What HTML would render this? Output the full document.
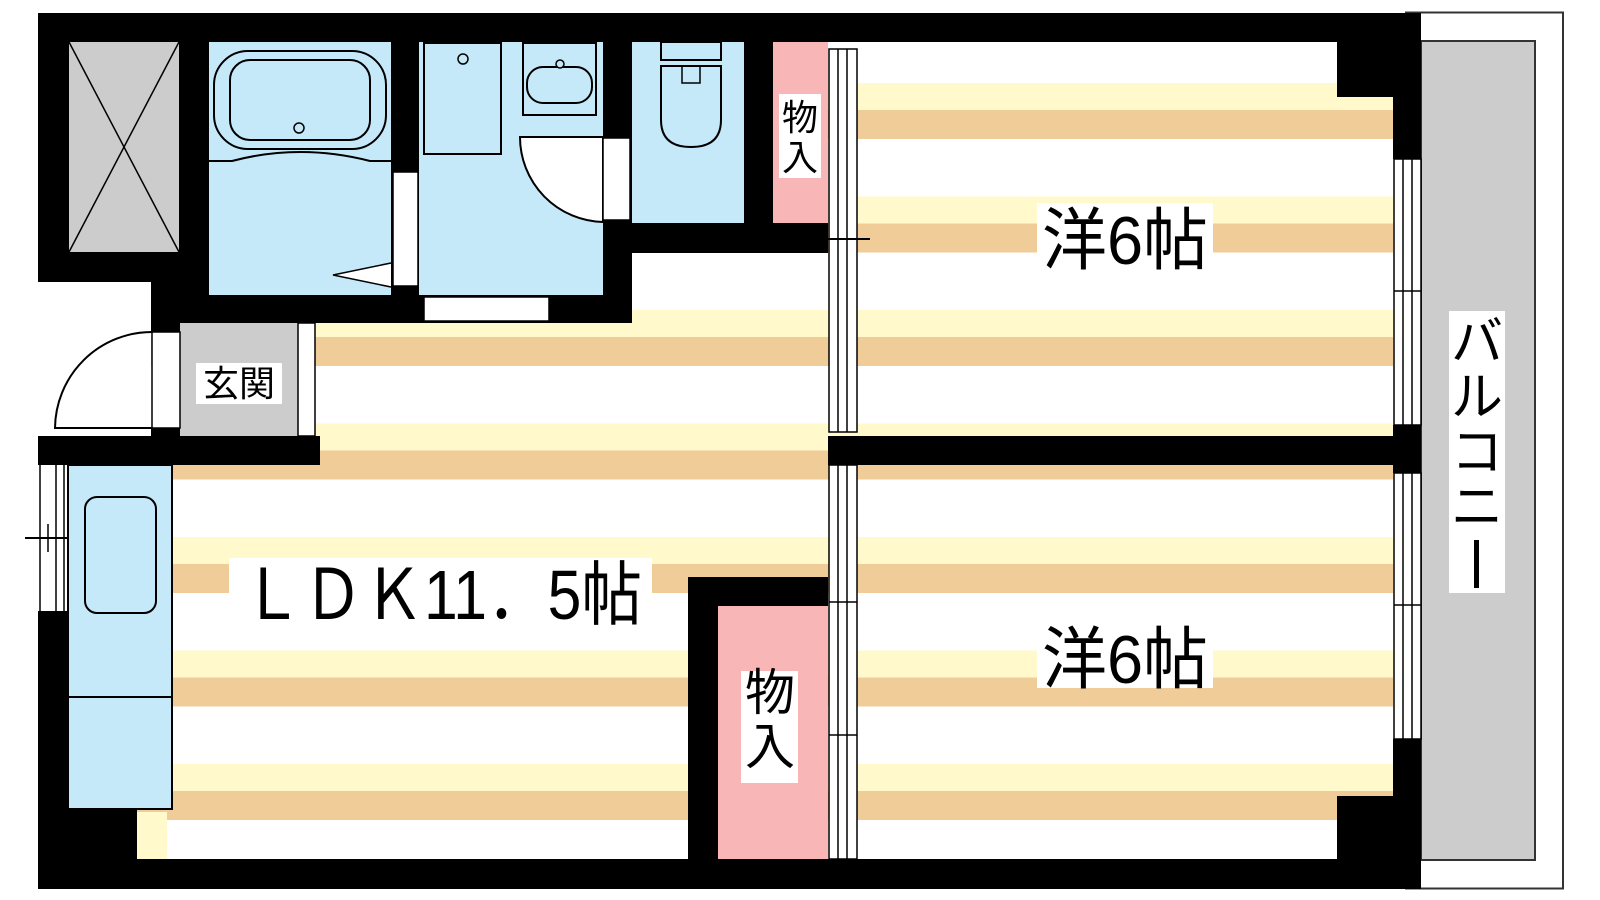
<!DOCTYPE html>
<html><head><meta charset="utf-8"><style>
html,body{margin:0;padding:0;background:#fff;width:1600px;height:900px;overflow:hidden}
svg{display:block}
text{font-family:"Liberation Sans","Noto Sans CJK JP",sans-serif;fill:#000}
</style></head><body>
<svg width="1600" height="900" viewBox="0 0 1600 900" xmlns="http://www.w3.org/2000/svg">
<defs>
<pattern id="fl" x="0" y="83" width="1600" height="113.5" patternUnits="userSpaceOnUse">
<rect x="0" y="0" width="1600" height="27" fill="#FFF9CC"/>
<rect x="0" y="27" width="1600" height="29" fill="#F0CD98"/>
</pattern>
</defs>
<!-- floors -->
<rect x="38" y="42" width="1355" height="817" fill="url(#fl)"/>
<rect x="38" y="42" width="1355" height="41" fill="#fff"/>
<rect x="38" y="195" width="594" height="112" fill="#fff"/>
<rect x="38" y="282" width="113" height="154" fill="#fff"/>
<rect x="632" y="253" width="196" height="54" fill="#fff"/>
<rect x="137" y="812" width="30" height="47" fill="#FFF9CC"/>

<!-- balcony -->
<rect x="1406" y="12.5" width="157" height="876" fill="#fff" stroke="#333" stroke-width="2"/>
<rect x="1421" y="41" width="114" height="819" fill="#ccc" stroke="#333" stroke-width="2"/>

<!-- shaft block -->
<rect x="38" y="13" width="171" height="269" fill="#000"/>
<rect x="69" y="42" width="110" height="210" fill="#ccc"/>
<line x1="69" y1="42" x2="179" y2="252" stroke="#000" stroke-width="1.5"/>
<line x1="179" y1="42" x2="69" y2="252" stroke="#000" stroke-width="1.5"/>

<!-- walls -->
<rect x="38" y="13" width="1383" height="29" fill="#000"/>
<rect x="38" y="859" width="1383" height="30" fill="#000"/>
<rect x="38" y="436" width="30" height="29" fill="#000"/>
<rect x="38" y="611" width="30" height="278" fill="#000"/>
<rect x="1393" y="13" width="28" height="146" fill="#000"/>
<rect x="1393" y="425" width="28" height="48" fill="#000"/>
<rect x="1393" y="739" width="28" height="150" fill="#000"/>
<rect x="1337" y="42" width="56" height="55" fill="#000"/>
<rect x="1337" y="796" width="56" height="63" fill="#000"/>
<rect x="151" y="282" width="58" height="50" fill="#000"/>
<rect x="151" y="295" width="481" height="28" fill="#000"/>
<rect x="151" y="428" width="29" height="8" fill="#000"/>
<rect x="38" y="436" width="282" height="29" fill="#000"/>
<rect x="603" y="42" width="29" height="281" fill="#000"/>
<rect x="603" y="223" width="225" height="30" fill="#000"/>
<rect x="828" y="436" width="593" height="29" fill="#000"/>
<rect x="688" y="577" width="140" height="29" fill="#000"/>
<rect x="688" y="577" width="30" height="282" fill="#000"/>
<rect x="38" y="809" width="99" height="80" fill="#000"/>

<!-- bath -->
<rect x="209" y="42" width="182" height="253" fill="#C5E9F8"/>
<rect x="214" y="51" width="172" height="98" rx="34" fill="none" stroke="#000" stroke-width="2"/>
<rect x="230" y="60" width="140" height="80" rx="20" fill="none" stroke="#000" stroke-width="2"/>
<circle cx="299" cy="128" r="5" fill="none" stroke="#000" stroke-width="1.5"/>
<path d="M209 161 L232 161 Q300 143 370 161 L391 161" fill="none" stroke="#000" stroke-width="2"/>
<rect x="391" y="42" width="28" height="253" fill="#000"/>
<rect x="393" y="172" width="25" height="114" fill="#fff" stroke="#000" stroke-width="1.5"/>
<path d="M391 263 L333 275 L391 287" fill="#fff" stroke="#000" stroke-width="1.5"/>

<!-- washroom -->
<rect x="419" y="42" width="184" height="253" fill="#C5E9F8"/>
<rect x="424" y="43" width="77" height="111" fill="none" stroke="#000" stroke-width="2"/>
<circle cx="463" cy="59" r="5" fill="none" stroke="#000" stroke-width="1.5"/>
<rect x="523" y="43" width="73" height="72" fill="none" stroke="#000" stroke-width="2"/>
<rect x="527" y="67" width="65" height="36" rx="16" fill="none" stroke="#000" stroke-width="2"/>
<circle cx="560" cy="64" r="4" fill="#C5E9F8" stroke="#000" stroke-width="1.5"/>
<path d="M520 137 L603 137 L603 222 A85 85 0 0 1 520 137 Z" fill="#fff" stroke="#000" stroke-width="2"/>
<rect x="603" y="138" width="27" height="82" fill="#fff" stroke="#000" stroke-width="1.5"/>
<rect x="424" y="297" width="125" height="24" fill="#fff" stroke="#000" stroke-width="1.5"/>

<!-- toilet -->
<rect x="632" y="42" width="112" height="181" fill="#C5E9F8"/>
<rect x="661" y="42" width="60" height="18" fill="none" stroke="#000" stroke-width="2"/>
<path d="M661 66 L721 66 L721 120 Q721 147 691 147 Q661 147 661 120 Z" fill="none" stroke="#000" stroke-width="2"/>
<path d="M682 66 L682 83 L700 83 L700 66" fill="none" stroke="#000" stroke-width="1.5"/>
<rect x="744" y="42" width="29" height="211" fill="#000"/>
<rect x="773" y="42" width="55" height="181" fill="#F9B6B7"/>
<rect x="779" y="94" width="42" height="84" fill="#fff"/>
<text x="800" y="130" font-size="36" text-anchor="middle">物</text>
<text x="800" y="170" font-size="36" text-anchor="middle">入</text>

<!-- genkan -->
<rect x="180" y="323" width="118" height="113" fill="#ccc"/>
<rect x="298" y="323" width="17" height="113" fill="#fff" stroke="#000" stroke-width="1.5"/>
<rect x="196" y="363" width="86" height="41" fill="#fff"/>
<text x="239" y="396" font-size="36" text-anchor="middle">玄関</text>
<rect x="152" y="332" width="28" height="96" fill="#fff" stroke="#000" stroke-width="1.5"/>
<path d="M152 332 A97 97 0 0 0 55 428 L152 428" fill="none" stroke="#000" stroke-width="2"/>

<!-- left window -->
<rect x="38" y="465" width="30" height="146" fill="#fff"/>
<line x1="40" y1="465" x2="40" y2="611" stroke="#000" stroke-width="1.5"/>
<line x1="56" y1="465" x2="56" y2="611" stroke="#000" stroke-width="1.5"/>
<line x1="64" y1="465" x2="64" y2="611" stroke="#000" stroke-width="1.5"/>
<line x1="25" y1="538" x2="80" y2="538" stroke="#000" stroke-width="2"/>
<line x1="48" y1="524" x2="48" y2="552" stroke="#000" stroke-width="1.5"/>

<!-- kitchen -->
<rect x="68" y="465" width="104" height="344" fill="#C5E9F8" stroke="#000" stroke-width="2"/>
<line x1="68" y1="697" x2="172" y2="697" stroke="#000" stroke-width="2"/>
<rect x="85" y="497" width="71" height="116" rx="12" fill="none" stroke="#000" stroke-width="2"/>

<!-- lower closet -->
<rect x="718" y="606" width="110" height="253" fill="#F9B6B7"/>
<rect x="741" y="671" width="57" height="112" fill="#fff"/>
<text x="770" y="710" font-size="50" text-anchor="middle">物</text>
<text x="770" y="764" font-size="50" text-anchor="middle">入</text>

<!-- sliding doors middle -->
<g stroke="#000" stroke-width="1.5" fill="#fff">
<rect x="829" y="49" width="28" height="383"/>
<rect x="829" y="465" width="28" height="394"/>
</g>
<g stroke="#000" stroke-width="1.5">
<line x1="838" y1="49" x2="838" y2="432"/><line x1="847" y1="49" x2="847" y2="432"/>
<line x1="838" y1="465" x2="838" y2="859"/><line x1="847" y1="465" x2="847" y2="859"/>
<line x1="828" y1="239" x2="870" y2="239" stroke-width="2"/>
<line x1="829" y1="602" x2="857" y2="602"/><line x1="829" y1="735" x2="857" y2="735"/>
</g>

<!-- right windows -->
<g stroke="#000" stroke-width="1.5" fill="#fff">
<rect x="1394" y="159" width="27" height="266"/>
<rect x="1394" y="473" width="27" height="266"/>
</g>
<g stroke="#000" stroke-width="1.5">
<line x1="1403" y1="159" x2="1403" y2="425"/><line x1="1412" y1="159" x2="1412" y2="425"/>
<line x1="1403" y1="473" x2="1403" y2="739"/><line x1="1412" y1="473" x2="1412" y2="739"/>
<line x1="1394" y1="291" x2="1421" y2="291"/><line x1="1394" y1="605" x2="1421" y2="605"/>
</g>

<!-- labels -->
<rect x="229" y="558" width="423" height="50" fill="#fff"/>
<text x="242" y="619" font-size="70" textLength="400" lengthAdjust="spacingAndGlyphs">ＬＤＫ11．5帖</text>
<rect x="1037" y="203" width="176" height="67" fill="#fff"/>
<text x="1125" y="264" font-size="68" text-anchor="middle" textLength="166" lengthAdjust="spacingAndGlyphs">洋6帖</text>
<rect x="1037" y="622" width="176" height="66" fill="#fff"/>
<text x="1125" y="683" font-size="68" text-anchor="middle" textLength="166" lengthAdjust="spacingAndGlyphs">洋6帖</text>
<rect x="1449" y="311" width="56" height="282" fill="#fff"/>
<text x="1477" y="360" font-size="52" text-anchor="middle">バ</text>
<text x="1477" y="415" font-size="52" text-anchor="middle">ル</text>
<text x="1477" y="470" font-size="52" text-anchor="middle">コ</text>
<text x="1477" y="525" font-size="52" text-anchor="middle">ニ</text>
<rect x="1474" y="540" width="5" height="48" fill="#000"/>
</svg>
</body></html>
